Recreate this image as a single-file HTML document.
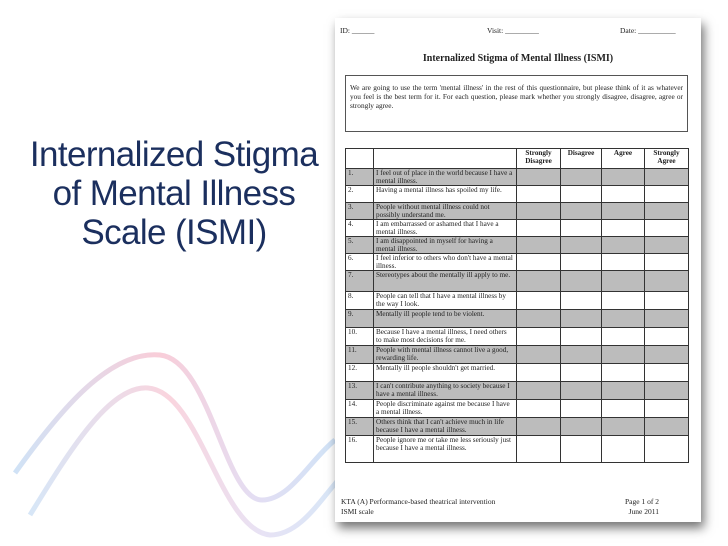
<!DOCTYPE html>
<html><head><meta charset="utf-8"><style>
body{margin:0;width:728px;height:546px;background:#fff;position:relative;overflow:hidden;font-family:"Liberation Serif",serif}
.title{position:absolute;left:4px;width:340px;top:135px;text-align:center;font-family:"Liberation Sans",sans-serif;font-size:35px;line-height:39px;color:#1b2f5e;letter-spacing:-0.6px}
.page{position:absolute;left:335px;top:18px;width:366px;height:504px;background:#fff;box-shadow:3px 6px 10px rgba(0,0,0,0.55)}
.a{position:absolute;font-size:7.5px;color:#222;line-height:8px}
table{position:absolute;left:10px;top:130px;border-collapse:collapse;font-size:7.2px;line-height:8px;color:#222;table-layout:fixed}
td{border:1px solid #333;padding:0 2px;vertical-align:top;height:17px;box-sizing:border-box;overflow:hidden}
tr.g td{background:#bcbcbc}
</style></head><body>
<svg style="position:absolute;left:0;top:0" width="340" height="546">
<defs><linearGradient id="g1" x1="0" y1="0" x2="1" y2="0"><stop offset="0" stop-color="#bcd6f2"/><stop offset="0.45" stop-color="#f6b8c8"/><stop offset="0.75" stop-color="#d8d0ee"/><stop offset="1" stop-color="#bcd6f2"/></linearGradient></defs>
<path d="M15,473 C60,410 110,350 160,355 C210,360 225,500 262,500 C290,500 310,460 335,440" stroke="url(#g1)" stroke-width="5" fill="none" opacity="0.7"/>
<path d="M30,515 C70,450 110,385 148,388 C200,392 220,530 270,535 C300,535 320,500 340,478" stroke="url(#g1)" stroke-width="5" fill="none" opacity="0.6"/>
</svg>
<div class="title">Internalized Stigma<br>of Mental Illness<br>Scale (ISMI)</div>
<div class="page">
<div class="a" style="left:5px;top:9px">ID: ______</div>
<div class="a" style="left:152px;top:9px">Visit: _________</div>
<div class="a" style="left:285px;top:9px">Date: __________</div>
<div class="a" style="left:0;width:366px;text-align:center;top:36px;font-size:10px;line-height:10px;font-weight:bold">Internalized Stigma of Mental Illness (ISMI)</div>
<div class="a" style="left:10px;top:57px;width:343px;height:57px;border:1px solid #555;padding:7px 4px;box-sizing:border-box;font-size:7.3px;line-height:9px;text-align:justify">We are going to use the term 'mental illness' in the rest of this questionnaire, but please think of it as whatever you feel is the best term for it. For each question, please mark whether you strongly disagree, disagree, agree or strongly agree.</div>
<table>
<colgroup><col style="width:28px"><col style="width:143px"><col style="width:44px"><col style="width:41px"><col style="width:43px"><col style="width:44px"></colgroup>
<tr><td style="height:20px"></td><td></td><td style="text-align:center;font-weight:bold">Strongly Disagree</td><td style="text-align:center;font-weight:bold">Disagree</td><td style="text-align:center;font-weight:bold">Agree</td><td style="text-align:center;font-weight:bold">Strongly Agree</td></tr>
<tr class="g"><td>1.</td><td>I feel out of place in the world because I have a mental illness.</td><td></td><td></td><td></td><td></td></tr>
<tr><td>2.</td><td>Having a mental illness has spoiled my life.</td><td></td><td></td><td></td><td></td></tr>
<tr class="g"><td>3.</td><td>People without mental illness could not possibly understand me.</td><td></td><td></td><td></td><td></td></tr>
<tr><td>4.</td><td>I am embarrassed or ashamed that I have a mental illness.</td><td></td><td></td><td></td><td></td></tr>
<tr class="g"><td>5.</td><td>I am disappointed in myself for having a mental illness.</td><td></td><td></td><td></td><td></td></tr>
<tr><td>6.</td><td>I feel inferior to others who don't have a mental illness.</td><td></td><td></td><td></td><td></td></tr>
<tr class="g"><td style="height:21px">7.</td><td>Stereotypes about the mentally ill apply to me.</td><td></td><td></td><td></td><td></td></tr>
<tr><td style="height:18px">8.</td><td>People can tell that I have a mental illness by the way I look.</td><td></td><td></td><td></td><td></td></tr>
<tr class="g"><td style="height:18px">9.</td><td>Mentally ill people tend to be violent.</td><td></td><td></td><td></td><td></td></tr>
<tr><td style="height:18px">10.</td><td>Because I have a mental illness, I need others to make most decisions for me.</td><td></td><td></td><td></td><td></td></tr>
<tr class="g"><td style="height:18px">11.</td><td>People with mental illness cannot live a good, rewarding life.</td><td></td><td></td><td></td><td></td></tr>
<tr><td style="height:18px">12.</td><td>Mentally ill people shouldn't get married.</td><td></td><td></td><td></td><td></td></tr>
<tr class="g"><td style="height:18px">13.</td><td>I can't contribute anything to society because I have a mental illness.</td><td></td><td></td><td></td><td></td></tr>
<tr><td style="height:18px">14.</td><td>People discriminate against me because I have a mental illness.</td><td></td><td></td><td></td><td></td></tr>
<tr class="g"><td style="height:18px">15.</td><td>Others think that I can't achieve much in life because I have a mental illness.</td><td></td><td></td><td></td><td></td></tr>
<tr><td style="height:27px">16.</td><td>People ignore me or take me less seriously just because I have a mental illness.</td><td></td><td></td><td></td><td></td></tr>
</table>
<div class="a" style="left:6px;top:479px;font-size:7.5px;line-height:10px">KTA (A) Performance-based theatrical intervention<br>ISMI scale</div>
<div class="a" style="left:290px;top:479px;font-size:7.5px;line-height:10px;text-align:right">Page 1 of 2<br>June 2011</div>
</div>
</body></html>
